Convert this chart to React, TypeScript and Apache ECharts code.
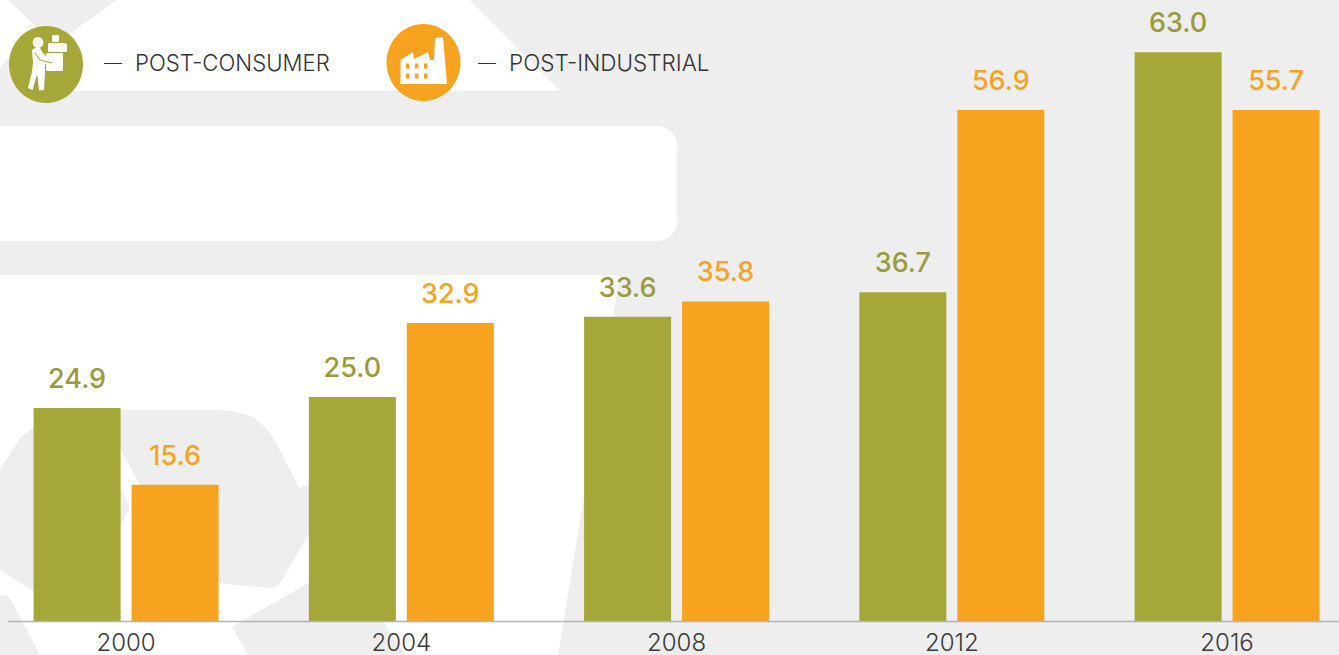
import React, { useEffect, useRef } from "react";
import * as echarts from "echarts";

const categories = ["2000", "2004", "2008", "2012", "2016"];
// Values as printed above the bars.
const postConsumerLabels = [24.9, 25.0, 33.6, 36.7, 63.0];
const postIndustrialLabels = [15.6, 32.9, 35.8, 56.9, 55.7];
// Bar heights as drawn in the picture, on the same scale (they differ slightly from the printed values).
const postConsumerHeights = [23.6, 24.8, 33.7, 36.4, 63.0];
const postIndustrialHeights = [15.1, 33.0, 35.4, 56.6, 56.6];

const OLIVE = "#a5a838";
const OLIVE_TEXT = "#9b9a3c";
const ORANGE = "#f8a31f";
const GREY = "#eeeeee";
const FONT = "Inter, 'Open Sans', sans-serif";

const whiteAreas: number[][][] = [
  [[0, 0], [8, 0], [55, 44], [117, 0], [469, 0], [560, 91], [50, 91], [30, 32], [0, 68]],
  [[0, 275], [620, 275], [558, 655], [0, 655]],
];
const greyAreas: number[][][] = [
  [[0, 470], [20, 438], [33, 428], [90, 412], [120, 486], [130, 507], [120, 527], [100, 570], [32, 590], [0, 570]],
  [[120, 410], [217, 410], [232, 411], [253, 417], [266, 428], [273, 437], [299, 488], [310, 484], [335, 505], [310, 532], [280, 583], [276, 587], [270, 588], [218, 583], [160, 560], [140, 485], [120, 448]],
  [[0, 595], [5, 595], [10, 598], [40, 655], [0, 655]],
  [[232, 627], [310, 582], [370, 600], [383, 622], [405, 655], [248, 655]],
];

const personIcon = [[32, 50], [36, 47.5], [40, 48], [43, 53], [46, 56], [52, 58], [53, 62], [51, 64], [45, 64], [45, 72], [44, 90], [39, 90.5], [37.5, 76], [36.5, 76], [32.5, 90], [28, 88], [32, 72], [33, 62]];
const personArm = [[35, 53], [40, 60], [52, 63]];
const factoryIcon = [[400.5, 60], [413, 52], [414, 59], [428, 52], [430, 60], [434, 60], [435, 38], [443, 37], [447, 84], [400.5, 84]];
const factoryWindowX = [406, 415, 424];
const factoryWindowY = [63.5, 73.5];

function polygonEl(points: number[][], fill: string, z: number) {
  return { type: "polygon", silent: true, z, shape: { points }, style: { fill } };
}

function labelText(text: string, x: number, y: number, size: number) {
  return {
    type: "text", z: 10, x, y, silent: true,
    style: { text, fill: "#333333", font: `300 ${size}px ${FONT}`, textVerticalAlign: "middle" },
  };
}

function seriesFor(name: string, heights: number[], labels: number[], color: string, labelColor: string) {
  return {
    name, type: "bar", barWidth: 87, barGap: "12.6%", data: heights,
    itemStyle: { color },
    label: {
      show: true, position: "top", distance: 16, color: labelColor,
      fontFamily: FONT, fontSize: 27, fontWeight: 500,
      formatter: (p: any) => labels[p.dataIndex].toFixed(1),
    },
  };
}

export default function App() {
  const ref = useRef<HTMLDivElement>(null);
  useEffect(() => {
    document.body.style.margin = "0";
    const chart = echarts.init(ref.current!, undefined, { renderer: "svg" });
    const windows: any[] = [];
    factoryWindowY.forEach((y) => factoryWindowX.forEach((x) =>
      windows.push({ type: "rect", z: 12, silent: true, shape: { x, y, width: 3.4, height: 5 }, style: { fill: ORANGE } })));
    chart.setOption({
      animation: false,
      backgroundColor: GREY,
      grid: { left: -11.55, top: -11, width: 1376.25, height: 632, containLabel: false, outerBoundsMode: "none" },
      xAxis: {
        type: "category", data: categories,
        axisLine: { show: false }, axisTick: { show: false },
        axisLabel: { color: "#3a3a3a", fontFamily: FONT, fontSize: 24, fontWeight: 300, margin: 9, lineHeight: 24, verticalAlign: "top" },
      },
      yAxis: { type: "value", min: 0, max: 70, show: false, splitLine: { show: false } },
      series: [
        seriesFor("Post-consumer", postConsumerHeights, postConsumerLabels, OLIVE, OLIVE_TEXT),
        seriesFor("Post-industrial", postIndustrialHeights, postIndustrialLabels, ORANGE, ORANGE),
      ],
      graphic: { elements: [
        ...whiteAreas.map((p) => polygonEl(p, "#ffffff", -10)),
        { type: "rect", z: -9, silent: true, shape: { x: -30, y: 126, width: 707, height: 115, r: 20 }, style: { fill: "#ffffff" } },
        ...greyAreas.map((p) => polygonEl(p, GREY, -8)),
        { type: "line", z: 5, silent: true, shape: { x1: 8, y1: 621.5, x2: 1339, y2: 621.5 }, style: { stroke: "#b2b2b2", lineWidth: 1.5 } },
        { type: "ellipse", z: 10, silent: true, shape: { cx: 46, cy: 64.5, rx: 37, ry: 38.5 }, style: { fill: OLIVE } },
        { type: "circle", z: 11, silent: true, shape: { cx: 38, cy: 42.5, r: 5.4 }, style: { fill: "#ffffff" } },
        { type: "rect", z: 11, silent: true, shape: { x: 46, y: 53, width: 17, height: 18, r: 1 }, style: { fill: "#ffffff" } },
        { type: "rect", z: 11, silent: true, shape: { x: 48, y: 43, width: 19, height: 9, r: 1.5 }, style: { fill: "#ffffff" } },
        { type: "rect", z: 11, silent: true, shape: { x: 52, y: 35, width: 7, height: 7, r: 1 }, style: { fill: "#ffffff" } },
        polygonEl(personIcon, "#ffffff", 12),
        { type: "polyline", z: 13, silent: true, shape: { points: personArm }, style: { stroke: OLIVE, lineWidth: 1, fill: "none" } },
        { type: "ellipse", z: 10, silent: true, shape: { cx: 423.5, cy: 62.5, rx: 37, ry: 38.5 }, style: { fill: ORANGE } },
        polygonEl(factoryIcon, "#ffffff", 11),
        ...windows,
        labelText("—", 104, 62, 18),
        labelText("POST-CONSUMER", 135, 62, 22.2),
        labelText("—", 478, 62, 18),
        labelText("POST-INDUSTRIAL", 509, 62, 22.5),
      ] },
    });
    return () => chart.dispose();
  }, []);
  return <div ref={ref} style={{ width: 1339, height: 655, display: "block" }} />;
}
